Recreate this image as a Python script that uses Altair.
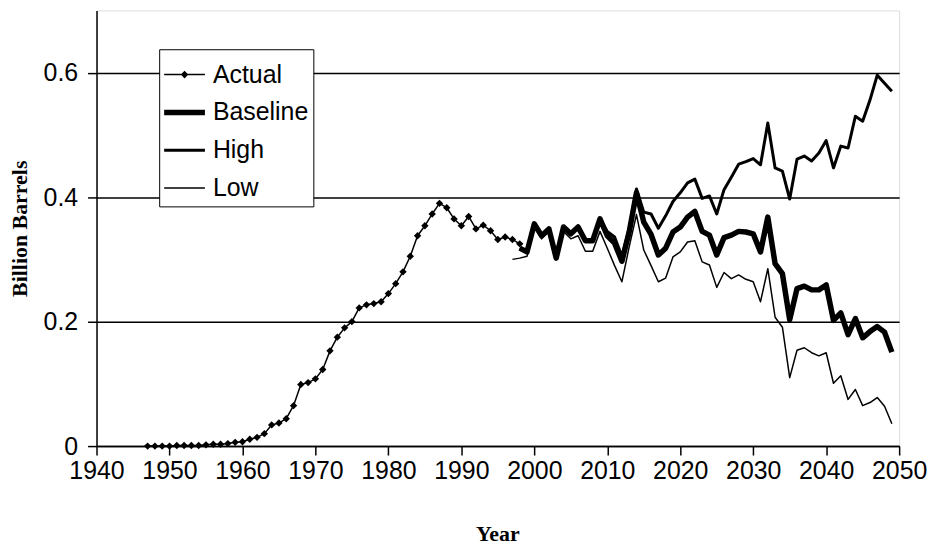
import altair as alt
import pandas as pd

# ---- data ----
actual_years = list(range(1947, 1999))
actual_vals = [0.000, 0.000, 0.000, 0.000, 0.001, 0.001, 0.001, 0.001, 0.002, 0.003,
               0.003, 0.004, 0.006, 0.007, 0.011, 0.014, 0.020, 0.034, 0.037, 0.044,
               0.065, 0.099, 0.102, 0.108, 0.123, 0.153, 0.175, 0.190, 0.200, 0.222,
               0.227, 0.229, 0.232, 0.245, 0.261, 0.280, 0.305, 0.338, 0.354, 0.373,
               0.390, 0.383, 0.365, 0.354, 0.369, 0.349, 0.355, 0.346, 0.332, 0.336,
               0.332, 0.325]

proj_years = list(range(1998, 2050))
baseline_vals = [0.318, 0.312, 0.357, 0.338, 0.349, 0.302, 0.352, 0.341, 0.352, 0.330,
                 0.330, 0.365, 0.338, 0.326, 0.297, 0.344, 0.407, 0.360, 0.340, 0.307,
                 0.318, 0.344, 0.352, 0.368, 0.377, 0.345, 0.339, 0.307, 0.335, 0.339,
                 0.345, 0.344, 0.341, 0.312, 0.368, 0.293, 0.277, 0.203, 0.253, 0.257,
                 0.251, 0.251, 0.259, 0.202, 0.214, 0.179, 0.205, 0.174, 0.184, 0.192,
                 0.183, 0.151]
high_vals = [0.318, 0.312, 0.357, 0.338, 0.349, 0.302, 0.352, 0.341, 0.352, 0.332,
             0.332, 0.365, 0.345, 0.336, 0.305, 0.350, 0.413, 0.376, 0.373, 0.350,
             0.370, 0.393, 0.407, 0.423, 0.429, 0.398, 0.402, 0.373, 0.412, 0.432,
             0.453, 0.457, 0.462, 0.452, 0.519, 0.447, 0.442, 0.397, 0.461, 0.466,
             0.458, 0.471, 0.491, 0.447, 0.482, 0.479, 0.530, 0.522, 0.556, 0.596,
             0.583, 0.570]

low_years = list(range(1997, 2050))
low_vals = [0.300, 0.302, 0.305, 0.352, 0.333, 0.345, 0.300, 0.345, 0.333, 0.338,
            0.313, 0.313, 0.345, 0.318, 0.290, 0.264, 0.320, 0.372, 0.315, 0.290,
            0.264, 0.270, 0.304, 0.312, 0.328, 0.330, 0.296, 0.291, 0.255, 0.279,
            0.269, 0.275, 0.268, 0.264, 0.232, 0.285, 0.207, 0.191, 0.110, 0.154,
            0.158, 0.150, 0.145, 0.150, 0.101, 0.113, 0.075, 0.091, 0.065, 0.070,
            0.078, 0.064, 0.036]

series_names = ["Actual", "Baseline", "High", "Low"]
x_ticks = list(range(1940, 2051, 10))
y_ticks = [0, 0.2, 0.4, 0.6]

frames = [
    pd.DataFrame({"year": actual_years, "value": actual_vals, "series": "Actual"}),
    pd.DataFrame({"year": proj_years, "value": baseline_vals, "series": "Baseline"}),
    pd.DataFrame({"year": proj_years, "value": high_vals, "series": "High"}),
    pd.DataFrame({"year": low_years, "value": low_vals, "series": "Low"}),
]
df = pd.concat(frames, ignore_index=True)

SANS = "Liberation Sans"
SERIF = "Liberation Serif"
LBL = 25

x_enc = alt.X(
    "year:Q",
    scale=alt.Scale(domain=[1940, 2050], nice=False, zero=False),
    axis=alt.Axis(
        values=x_ticks, format="d", tickSize=9, tickColor="black", tickWidth=1.5,
        domainColor="black", domainWidth=1.5, labelFont=SANS, labelFontSize=LBL,
        labelColor="black", labelPadding=4, grid=False, labelFlush=False,
        labelOverlap=False,
        title="Year", titleFont=SERIF, titleFontSize=22, titleFontWeight="bold",
        titleColor="black", titleX=403, titleY=88, titleAlign="center",
        titleBaseline="middle",
    ),
)
y_enc = alt.Y(
    "value:Q",
    scale=alt.Scale(domain=[0, 0.7], nice=False),
    axis=alt.Axis(
        values=y_ticks, labelExpr="datum.value == 0 ? '0' : format(datum.value, '.1f')",
        tickSize=9, tickColor="black", tickWidth=1.5, domainColor="black",
        domainWidth=1.5, labelFont=SANS, labelFontSize=LBL, labelColor="black",
        labelPadding=10, grid=True, gridColor="black", gridWidth=1.5, gridOpacity=1,
        labelFlush=False,
        title="Billion Barrels", titleFont=SERIF, titleFontSize=22,
        titleFontWeight="bold", titleColor="black", titleX=-77, titleY=219,
        titleAngle=270, titleAlign="center", titleBaseline="middle",
    ),
)

base = alt.Chart(df)
widths = {"Low": 1.5, "High": 3, "Baseline": 5.5, "Actual": 1.5}

layers = []
for name in ["Low", "High", "Baseline", "Actual"]:
    layers.append(
        base.transform_filter(alt.datum.series == name)
        .mark_line(color="black", strokeWidth=widths[name], strokeJoin="round")
        .encode(x=x_enc, y=y_enc)
    )

points = base.transform_filter(alt.datum.series == "Actual").mark_point(
    shape="diamond", filled=True, color="black", size=55, opacity=1
).encode(x=x_enc, y=y_enc)
layers.append(points)

# legend symbols: filled paths (line bars of the series' widths; diamond for Actual)
SYM_LEN = 41.0
SYM = SYM_LEN ** 2
HALF = SYM_LEN / 2


def bar_path(width_px, diamond=False):
    h = width_px / 2 / HALF
    p = f"M-1,{-h:.3f}H1V{h:.3f}H-1Z"
    if diamond:
        d = 3.8 / HALF
        p += f"M0,{-d:.3f}L{d:.3f},0L0,{d:.3f}L{-d:.3f},0Z"
    return p


legend_paths = [bar_path(widths["Actual"], True), bar_path(widths["Baseline"]),
                bar_path(widths["High"]), bar_path(widths["Low"])]

legend_def = alt.Legend(
    orient="none", legendX=63, legendY=39, title=None, fillColor="white",
    strokeColor="black", padding=5, labelFont=SANS, labelFontSize=LBL,
    labelColor="black", symbolSize=SYM, rowPadding=4, labelOffset=8,
    symbolFillColor="black", symbolStrokeWidth=0,
)

legend_layer = base.transform_filter("false").mark_point(
    filled=True, color="black", opacity=1
).encode(
    x=x_enc, y=y_enc,
    shape=alt.Shape("series:N", scale=alt.Scale(domain=series_names, range=legend_paths),
                    legend=legend_def),
)
layers.append(legend_layer)

chart = alt.layer(*layers).properties(
    width=807, height=438,
    autosize=alt.AutoSizeParams(type="none"),
    padding={"left": 89, "top": 1, "right": 28, "bottom": 100},
).configure_view(stroke="black", strokeWidth=1.5).configure(background="white")

chart.save("out.html", embed_options={"renderer": "svg", "actions": False})
